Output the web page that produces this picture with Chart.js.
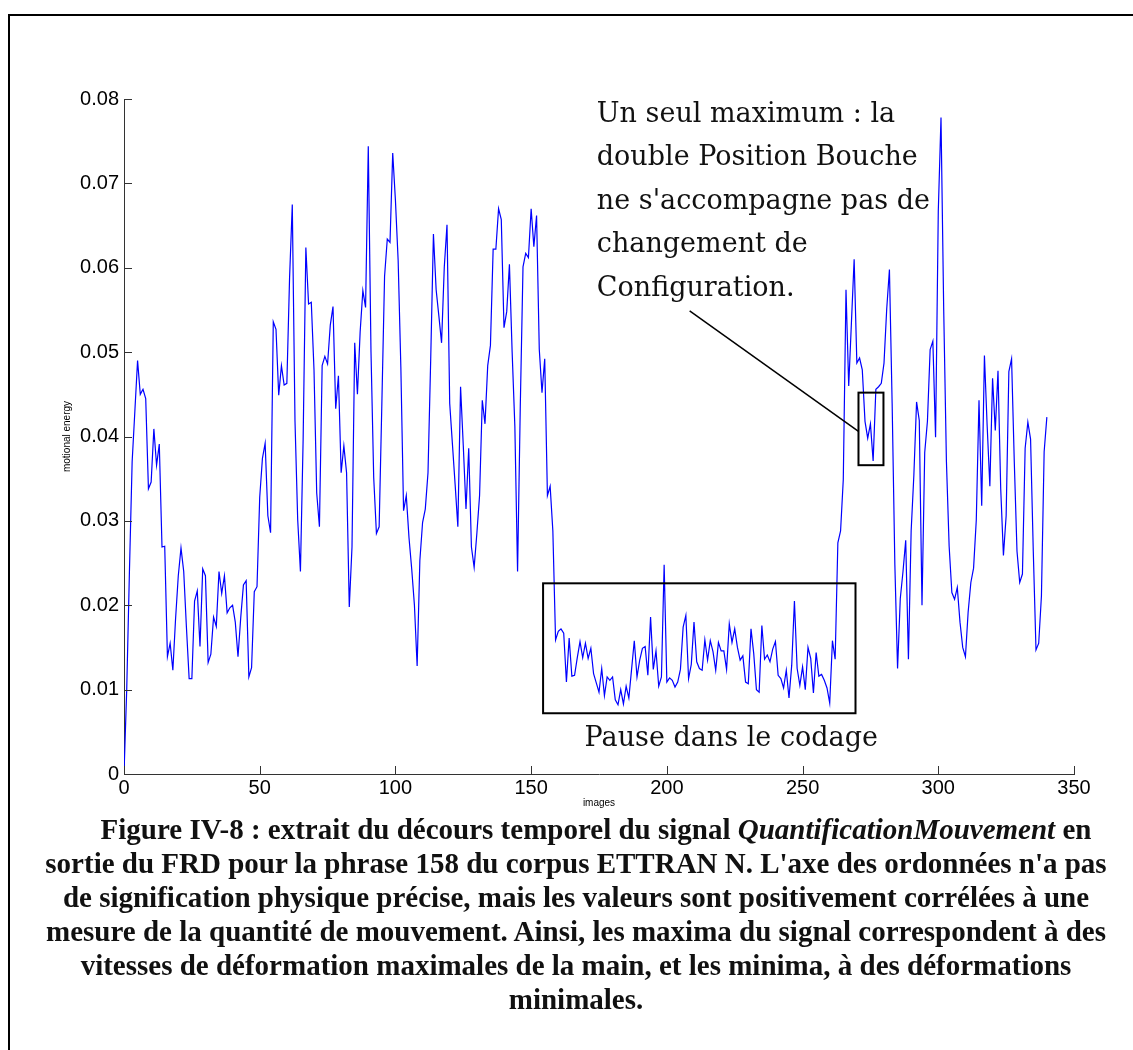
<!DOCTYPE html>
<html>
<head>
<meta charset="utf-8">
<script src="https://cdn.jsdelivr.net/npm/chart.js"></script>
<style>
  html, body { margin: 0; padding: 0; background: #fff; overflow: hidden; }
  #page { position: relative; width: 1133px; height: 1050px; }
  #frame { position: absolute; left: 8px; top: 14px; width: 1200px; height: 1100px;
           border-left: 2px solid #000; border-top: 2px solid #000; }
  #chart { position: absolute; left: 0; top: 0; }
  #caption { position: absolute; left: 30px; width: 1092px; top: 812px; text-align: center;
             font-family: "Liberation Serif", "Times New Roman", serif; font-weight: bold;
             font-size: 29px; line-height: 34px; color: #111; white-space: nowrap; text-indent: 40px; }
</style>
</head>
<body>
<div id="page">
  <div id="frame"></div>
  <canvas id="chart" width="1133" height="1050"></canvas>
  <div id="caption">Figure IV-8 : extrait du décours temporel du signal <i>QuantificationMouvement</i> en<br>sortie du FRD pour la phrase 158 du corpus ETTRAN N. L'axe des ordonnées n'a pas<br>de signification physique précise, mais les valeurs sont positivement corrélées à une<br>mesure de la quantité de mouvement. Ainsi, les maxima du signal correspondent à des<br>vitesses de déformation maximales de la main, et les minima, à des déformations<br>minimales.</div>
</div>
<script>
// motional energy per image (frame 0..340)
var energy = [
  0, 0.010, 0.024, 0.037, 0.043, 0.049, 0.0450, 0.0456, 0.0445, 0.0338,
  0.0346, 0.0409, 0.0366, 0.0391, 0.0269, 0.0270, 0.0139, 0.0155, 0.0123, 0.0184,
  0.0235, 0.0268, 0.0240, 0.0174, 0.0113, 0.0113, 0.0205, 0.0217, 0.0151, 0.0243,
  0.0235, 0.0132, 0.0142, 0.0186, 0.0175, 0.0240, 0.0214, 0.0235, 0.0191, 0.0197,
  0.0200, 0.0180, 0.0139, 0.0185, 0.0224, 0.0229, 0.0115, 0.0126, 0.0216, 0.0222,
  0.0328, 0.0374, 0.0392, 0.0306, 0.0286, 0.0536, 0.0527, 0.0449, 0.0484, 0.0461,
  0.0463, 0.0588, 0.0675, 0.0418, 0.0301, 0.0240, 0.0397, 0.0624, 0.0557, 0.0559,
  0.0479, 0.0333, 0.0293, 0.0484, 0.0495, 0.0486, 0.0532, 0.0554, 0.0433, 0.0472,
  0.0357, 0.0389, 0.0357, 0.0198, 0.0269, 0.0511, 0.0450, 0.0524, 0.0573, 0.0553,
  0.0744, 0.0500, 0.0351, 0.0285, 0.0293, 0.0439, 0.0590, 0.0634, 0.0630, 0.0736,
  0.0680, 0.0609, 0.0482, 0.0312, 0.0330, 0.0280, 0.0243, 0.0200, 0.0128, 0.0253,
  0.0298, 0.0314, 0.0357, 0.0492, 0.0640, 0.0574, 0.0543, 0.0511, 0.0601, 0.0651,
  0.0439, 0.0391, 0.0343, 0.0293, 0.0459, 0.0389, 0.0314, 0.0386, 0.0269, 0.0245,
  0.0285, 0.0330, 0.0443, 0.0415, 0.0484, 0.0508, 0.0622, 0.0622, 0.0670, 0.0657,
  0.0529, 0.0548, 0.0604, 0.0500, 0.0412, 0.0240, 0.0436, 0.0601, 0.0617, 0.0612,
  0.0670, 0.0625, 0.0662, 0.0503, 0.0452, 0.0492, 0.0330, 0.0341, 0.0288, 0.0159,
  0.0169, 0.0172, 0.0167, 0.0109, 0.0161, 0.0116, 0.0117, 0.0138, 0.0157, 0.0138,
  0.0155, 0.0137, 0.0149, 0.0119, 0.0108, 0.0097, 0.0125, 0.0093, 0.0115, 0.0111,
  0.0115, 0.0088, 0.0082, 0.0100, 0.0083, 0.0104, 0.0090, 0.0124, 0.0158, 0.0115,
  0.0135, 0.0149, 0.0151, 0.0117, 0.0186, 0.0124, 0.0146, 0.0104, 0.0115, 0.0248,
  0.0109, 0.0114, 0.0111, 0.0103, 0.0109, 0.0124, 0.0174, 0.0188, 0.0113, 0.0130,
  0.0180, 0.0133, 0.0125, 0.0123, 0.0159, 0.0135, 0.0158, 0.0145, 0.0123, 0.0156,
  0.0146, 0.0146, 0.0124, 0.0178, 0.0156, 0.0172, 0.0150, 0.0135, 0.0140, 0.0109,
  0.0107, 0.0172, 0.0143, 0.0100, 0.0097, 0.0176, 0.0136, 0.0141, 0.0133, 0.0148,
  0.0157, 0.0117, 0.0113, 0.0102, 0.0123, 0.0090, 0.0129, 0.0205, 0.0125, 0.0105,
  0.0127, 0.0100, 0.0150, 0.0137, 0.0096, 0.0144, 0.0116, 0.0118, 0.0111, 0.0102,
  0.0084, 0.0158, 0.0136, 0.0274, 0.0288, 0.0349, 0.0574, 0.0460, 0.0535, 0.0610,
  0.0487, 0.0493, 0.0479, 0.0418, 0.0398, 0.0415, 0.0371, 0.0456, 0.0459, 0.0463,
  0.0487, 0.0551, 0.0598, 0.0439, 0.0248, 0.0125, 0.0208, 0.0240, 0.0277, 0.0136,
  0.0288, 0.0354, 0.0441, 0.0419, 0.0200, 0.0381, 0.0418, 0.0503, 0.0513, 0.0399,
  0.0667, 0.0778, 0.0550, 0.0370, 0.0270, 0.0215, 0.0207, 0.0221, 0.0180, 0.0150,
  0.0139, 0.0192, 0.0227, 0.0244, 0.0301, 0.0443, 0.0318, 0.0496, 0.0413, 0.0341,
  0.0469, 0.0407, 0.0478, 0.0338, 0.0259, 0.0306, 0.0477, 0.0492, 0.0370, 0.0264,
  0.0227, 0.0237, 0.0386, 0.0417, 0.0397, 0.0264, 0.0147, 0.0155, 0.0211, 0.0382,
  0.0423
];
var xTicks = [0, 50, 100, 150, 200, 250, 300, 350];
var yTicks = [0, 0.01, 0.02, 0.03, 0.04, 0.05, 0.06, 0.07, 0.08];
var yTickLabels = ['0', '0.01', '0.02', '0.03', '0.04', '0.05', '0.06', '0.07', '0.08'];

var noteLines = ['Un seul maximum : la', 'double Position Bouche', "ne s'accompagne pas de", 'changement de', 'Configuration.'];
var pauseText = 'Pause dans le codage';

// annotation boxes in data units
var pauseBox = { x0: 154.4, x1: 269.5, y0: 0.0072, y1: 0.0226 };
var peakBox = { x0: 270.6, x1: 279.8, y0: 0.0366, y1: 0.0452 };
var pointer = { x0: 208.4, y0: 0.0549, x1: 270.6, y1: 0.0406 };

var points = energy.map(function (v, i) { return { x: i, y: v }; });

var matlabLook = {
  id: 'matlabLook',
  afterDraw: function (chart) {
    var ctx = chart.ctx, xs = chart.scales.x, ys = chart.scales.y;
    var a = chart.chartArea;
    ctx.save();
    // inward tick marks
    ctx.strokeStyle = '#333';
    ctx.lineWidth = 1;
    ctx.beginPath();
    yTicks.forEach(function (v) {
      var y = Math.round(ys.getPixelForValue(v)) + 0.5;
      ctx.moveTo(a.left, y); ctx.lineTo(a.left + 8, y);
    });
    xTicks.forEach(function (v) {
      var x = Math.round(xs.getPixelForValue(v)) + 0.5;
      ctx.moveTo(x, a.bottom); ctx.lineTo(x, a.bottom - 8);
    });
    ctx.stroke();

    // boxes + pointer
    ctx.strokeStyle = '#000';
    ctx.lineWidth = 2;
    [pauseBox, peakBox].forEach(function (b) {
      var l = xs.getPixelForValue(b.x0), r = xs.getPixelForValue(b.x1);
      var t = ys.getPixelForValue(b.y1), bt = ys.getPixelForValue(b.y0);
      ctx.strokeRect(l, t, r - l, bt - t);
    });
    ctx.lineWidth = 1.5;
    ctx.beginPath();
    ctx.moveTo(xs.getPixelForValue(pointer.x0), ys.getPixelForValue(pointer.y0));
    ctx.lineTo(xs.getPixelForValue(pointer.x1), ys.getPixelForValue(pointer.y1));
    ctx.stroke();

    // texts
    ctx.fillStyle = '#111';
    ctx.font = '27px "DejaVu Serif", serif';
    ctx.textBaseline = 'middle';
    ctx.textAlign = 'left';
    var tx = xs.getPixelForValue(174.2), ty = ys.getPixelForValue(0.0781);
    noteLines.forEach(function (s, i) { ctx.fillText(s, tx, ty + i * 43.4); });
    ctx.fillText(pauseText, xs.getPixelForValue(169.7), ys.getPixelForValue(0.0042));
    ctx.restore();
  }
};

var tickFont = { family: '"Liberation Sans", Arial, sans-serif', size: 20 };
var titleFont = { family: '"Liberation Sans", Arial, sans-serif', size: 10 };

new Chart(document.getElementById('chart'), {
  type: 'line',
  data: {
    datasets: [{
      data: points,
      borderColor: '#0000ff',
      borderWidth: 1.2,
      pointRadius: 0,
      tension: 0,
      fill: false
    }]
  },
  options: {
    responsive: false,
    animation: false,
    layout: { padding: { left: 0, top: 99, right: 59, bottom: 216 } },
    plugins: { legend: { display: false }, tooltip: { enabled: false } },
    scales: {
      x: {
        type: 'linear', min: 0, max: 350,
        grid: { display: false, drawTicks: false },
        border: { display: true, color: '#333', width: 1 },
        afterBuildTicks: function (s) { s.ticks = xTicks.map(function (v) { return { value: v }; }); },
        afterFit: function (s) { s.height = 60; },
        ticks: { padding: 2, color: '#000', font: tickFont, maxRotation: 0, autoSkip: false },
        title: { display: true, text: 'images', color: '#000', font: titleFont, padding: { top: 0, bottom: 25 } }
      },
      y: {
        min: 0, max: 0.08,
        grid: { display: false, drawTicks: false },
        border: { display: true, color: '#333', width: 1 },
        afterBuildTicks: function (s) { s.ticks = yTicks.map(function (v) { return { value: v }; }); },
        afterFit: function (s) { s.width = 124; },
        ticks: {
          padding: 5, color: '#000', font: tickFont, autoSkip: false,
          callback: function (v, i) { return yTickLabels[i]; }
        },
        title: { display: true, text: 'motional energy', color: '#000', font: titleFont, padding: { top: 61, bottom: 0 } }
      }
    }
  },
  plugins: [matlabLook]
});
</script>
</body>
</html>
